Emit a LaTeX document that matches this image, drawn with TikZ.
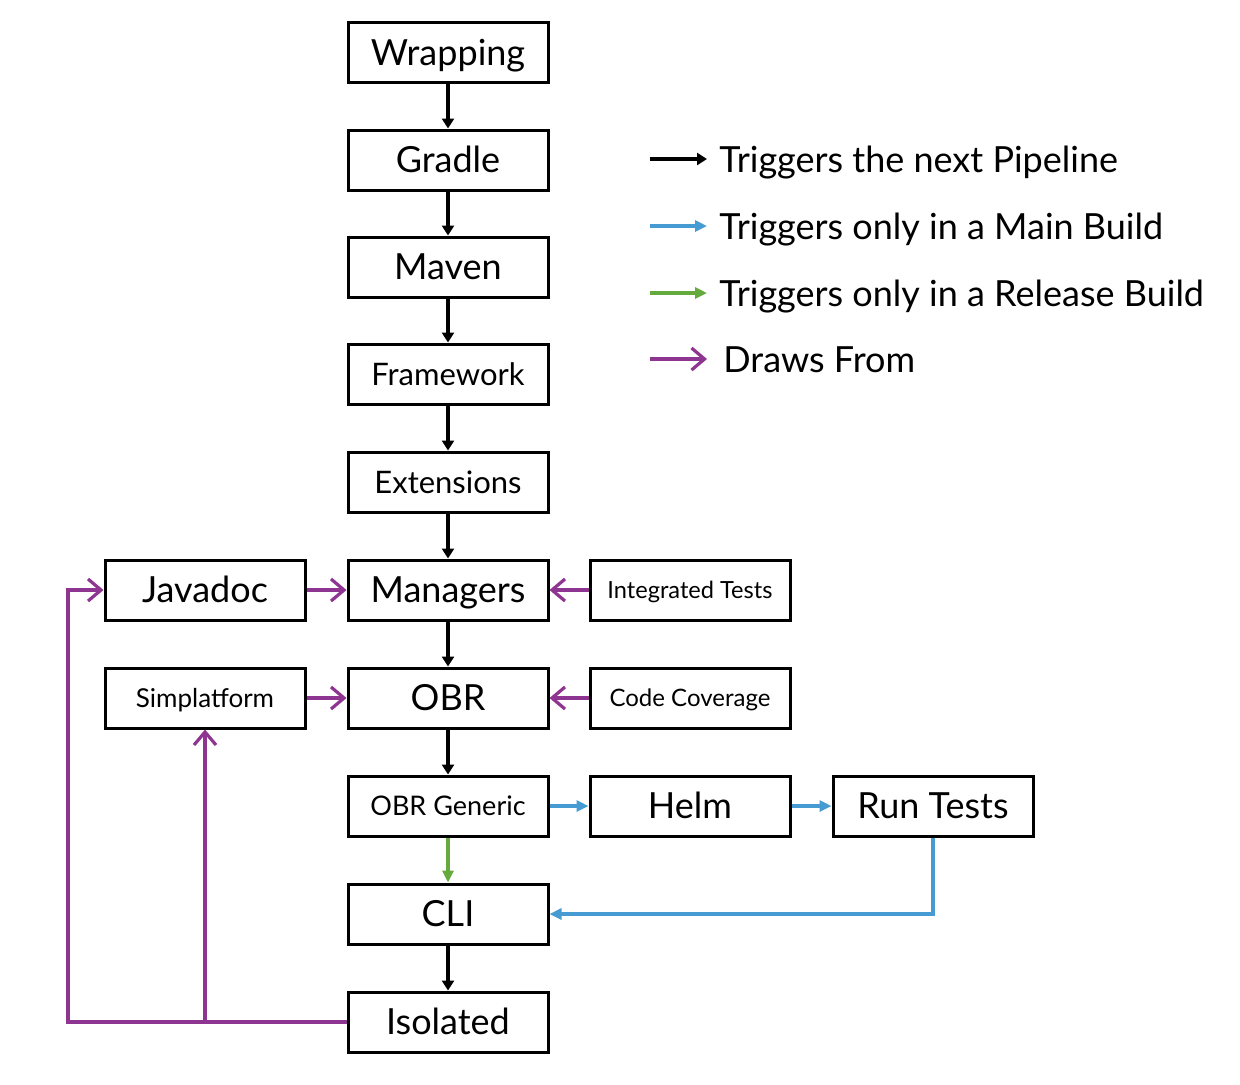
\documentclass[tikz,border=0pt]{standalone}
\usepackage{fontspec}
\setmainfont{Lato}
\usetikzlibrary{arrows.meta}
\definecolor{cpurple}{RGB}{142,52,145}
\definecolor{cblue}{RGB}{70,155,210}
\definecolor{cgreen}{RGB}{100,170,60}
\begin{document}
\begin{tikzpicture}[x=0.5pt,y=-0.5pt,
  box/.style={draw=black,line width=1.5pt,minimum width=100pt,minimum height=30pt,inner sep=0pt,anchor=center,text depth=0pt},
  fs/.style={font=\fontsize{#1}{#1}\selectfont,text height={0.72*#1pt}},
  big/.style={fs=18},
  mid/.style={fs=15.5},
  trig/.style={line width=1.6pt,-{Triangle[length=5pt,width=6pt]}},
  mainb/.style={cblue,line width=1.6pt,-{Triangle[length=6pt,width=5.5pt]}},
  relb/.style={cgreen,line width=1.6pt,-{Triangle[length=6pt,width=5.5pt]}},
  draws/.style={cpurple,line width=1.6pt,-{Straight Barb[length=6.5pt,width=11pt,line width=1.6pt]}},
  leg/.style={anchor=base west,inner sep=0pt,font=\fontsize{18}{20}\selectfont}]
\useasboundingbox (0,0) rectangle (1240,1084);
% main column
\node[box,big] (wrap) at (448,52.5) {Wrapping};
\node[box,big] (gradle) at (448,160) {Gradle};
\node[box,big] (maven) at (448,267) {Maven};
\node[box,mid] (frame) at (448,374) {Framework};
\node[box,mid] (ext) at (448,482) {Extensions};
\node[box,big] (man) at (448,590) {Managers};
\node[box,big] (obr) at (448,698) {OBR};
\node[box,fs=13.5] (obrg) at (448,806) {OBR Generic};
\node[box,big] (cli) at (448,914) {CLI};
\node[box,big] (iso) at (448,1022) {Isolated};
% side boxes
\node[box,big] (jdoc) at (205,590) {Javadoc};
\node[box,fs=13] (simp) at (205,698) {Simplatform};
\node[box,fs=11.8] (itest) at (690,590) {Integrated Tests};
\node[box,fs=12] (cov) at (690,698) {Code Coverage};
\node[box,big] (helm) at (690,806) {Helm};
\node[box,big] (run) at (933,806) {Run Tests};
% black triggers
\draw[trig] (wrap) -- (gradle);
\draw[trig] (gradle) -- (maven);
\draw[trig] (maven) -- (frame);
\draw[trig] (frame) -- (ext);
\draw[trig] (ext) -- (man);
\draw[trig] (man) -- (obr);
\draw[trig] (obr) -- (obrg);
\draw[trig] (cli) -- (iso);
% blue
\draw[mainb] (obrg) -- (helm);
\draw[mainb] (helm) -- (run);
\draw[mainb] (run.south) |- (cli.east);
% green
\draw[relb] (obrg) -- (cli);
% purple
\draw[draws] (jdoc) -- (man);
\draw[draws] (simp) -- (obr);
\draw[draws] (itest) -- (man);
\draw[draws] (cov) -- (obr);
\coordinate (bl) at (68,1022);
\coordinate (br) at (205,1022);
\draw[draws] (iso.west) -- (bl) |- (jdoc.west);
\draw[draws] (br) -- (simp.south);
% legend
\coordinate (l1a) at (650,159); \coordinate (l1b) at (707,159);
\coordinate (l2a) at (650,226); \coordinate (l2b) at (707,226);
\coordinate (l3a) at (650,293); \coordinate (l3b) at (707,293);
\coordinate (l4a) at (650,359); \coordinate (l4b) at (707,359);
\draw[trig] (l1a) -- (l1b);
\draw[mainb] (l2a) -- (l2b);
\draw[relb] (l3a) -- (l3b);
\draw[draws] (l4a) -- (l4b);
\node[leg] (t1) at (719,172) {Triggers the next Pipeline};
\node[leg] (t2) at (719,239) {Triggers only in a Main Build};
\node[leg] (t3) at (719,306) {Triggers only in a Release Build};
\node[leg] (t4) at (723,372) {Draws From};
\end{tikzpicture}
\end{document}
